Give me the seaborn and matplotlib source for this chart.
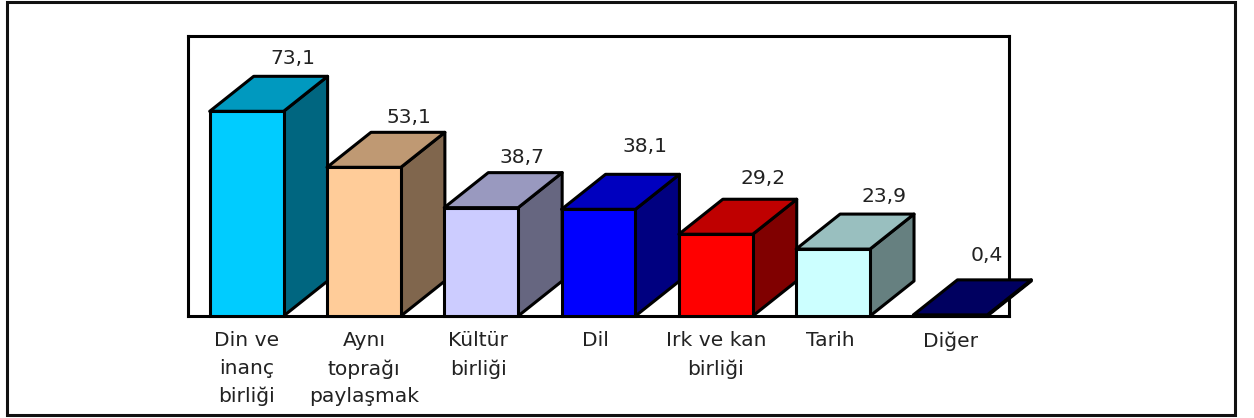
import matplotlib
matplotlib.use('Agg')
import matplotlib.pyplot as plt
from matplotlib.colors import to_rgb
from matplotlib.patches import Polygon, Rectangle
import pandas as pd
import seaborn as sns

categories = ['Din ve\ninanç\nbirliği', 'Aynı\ntoprağı\npaylaşmak', 'Kültür\nbirliği', 'Dil',
              'Irk ve kan\nbirliği', 'Tarih', 'Diğer']
values = [73.1, 53.1, 38.7, 38.1, 29.2, 23.9, 0.4]
value_labels = ['73,1', '53,1', '38,7', '38,1', '29,2', '23,9', '0,4']
front_colors = ['#00CCFF', '#FFCC99', '#CCCCFF', '#0000FF', '#FF0000', '#CCFFFF', '#000080']

# hand placed label offsets in the original, pixels from the bar's front top centre
label_dx = [46, 45, 41, 46, 47, 51, 36]
label_dy = [53, 50, 50, 63, 56, 53, 59]
tick_dx = [0, 0, -3, -3, 0, -3, 0]

W, H = 1254, 418
LEFT, RIGHT, TOP, BASE = 188, 1009, 36, 316
DEPTH_X, DEPTH_Y = 44, 35
LW = 2.2
FONT = 14.6


def shade(color, factor):
    return tuple(c * factor for c in to_rgb(color))


df = pd.DataFrame({'category': categories, 'value': values})

sns.set_style('white')
plt.rcParams['font.family'] = ['DejaVu Sans']

fig = plt.figure(figsize=(W / 100, H / 100), dpi=100)
fig.patch.set_facecolor('white')
ax = fig.add_axes([LEFT / W, 1 - BASE / H, (RIGHT - LEFT) / W, (BASE - TOP) / H])

sns.barplot(data=df, x='category', y='value', hue='category', palette=front_colors,
            order=categories, hue_order=categories, dodge=False, legend=False,
            width=0.63, saturation=1, edgecolor='black', linewidth=LW, ax=ax)

ax.set_xlim(-0.5, 6.5)
ax.set_ylim(0, 100)
ax.set_yticks([])
ax.set_xlabel('')
ax.set_ylabel('')

# depth of the boxes, built from the bars seaborn drew
dx = DEPTH_X * 7 / (RIGHT - LEFT)
dy = DEPTH_Y * 100 / (BASE - TOP)
bars = sorted(ax.patches, key=lambda b: b.get_x())
for i, bar in enumerate(bars):
    x0, x1 = bar.get_x(), bar.get_x() + bar.get_width()
    h = bar.get_height()
    base_z = 5 + i * 3
    color = front_colors[i]
    side = Polygon([(x1, 0), (x1 + dx, dy), (x1 + dx, h + dy), (x1, h)], closed=True,
                   facecolor=shade(color, 0.5), edgecolor='black', linewidth=LW,
                   joinstyle='round', clip_on=False, zorder=base_z)
    top = Polygon([(x0, h), (x0 + dx, h + dy), (x1 + dx, h + dy), (x1, h)], closed=True,
                  facecolor=shade(color, 0.75), edgecolor='black', linewidth=LW,
                  joinstyle='round', clip_on=False, zorder=base_z + 1)
    ax.add_patch(side)
    ax.add_patch(top)
    bar.set_zorder(base_z + 2)
    bar.set_clip_on(False)

    ax.annotate(value_labels[i], xy=((x0 + x1) / 2, h), xytext=(label_dx[i] * 0.72, label_dy[i] * 0.72),
                textcoords='offset points', ha='center', va='center',
                fontsize=FONT, color='#222222', zorder=50)

for spine in ax.spines.values():
    spine.set_visible(True)
    spine.set_color('black')
    spine.set_linewidth(LW)
    spine.set_zorder(2)

ax.set_xticks(range(len(categories)))
ax.set_xticklabels(categories)
ax.tick_params(axis='x', length=0, pad=11, labelsize=FONT, labelcolor='#222222')
for lab, off in zip(ax.get_xticklabels(), tick_dx):
    lab.set_linespacing(1.57)
    lab.set_transform(lab.get_transform() + matplotlib.transforms.ScaledTranslation(off / 100, 0, fig.dpi_scale_trans))

# outer frame of the picture
fig.add_artist(Rectangle((7 / W, 1 - 414.5 / H), 1227.5 / W, 413 / H, transform=fig.transFigure,
                         fill=False, edgecolor='#111111', linewidth=LW))

fig.savefig('out.png', dpi=100, facecolor='white')
